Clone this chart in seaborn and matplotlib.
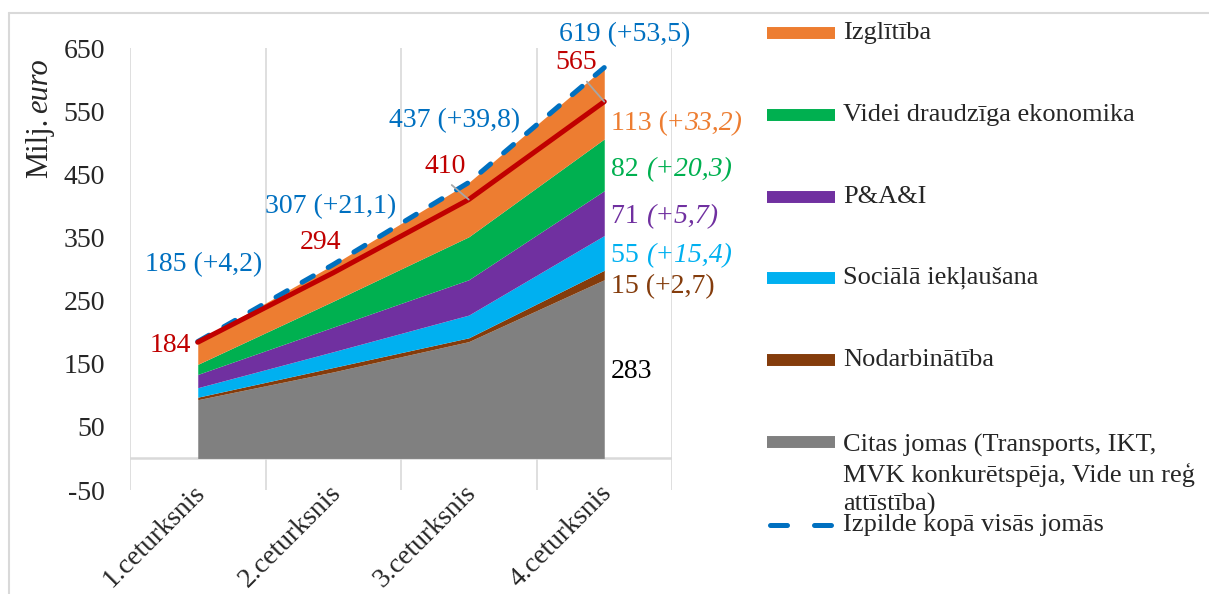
import numpy as np
import pandas as pd
import matplotlib
matplotlib.use("Agg")
import matplotlib.pyplot as plt
from matplotlib.lines import Line2D
from matplotlib.transforms import ScaledTranslation
import seaborn as sns

# ---------------- data ----------------
categories = ["1.ceturksnis", "2.ceturksnis", "3.ceturksnis", "4.ceturksnis"]
citas = [93, 137, 185, 283]
nodarbinatiba = [4, 7, 6, 15]
socialā = [15, 25, 36, 55]
pai = [21, 39, 56, 71]
videi = [16, 41, 68, 82]
izglitiba = [36, 58, 86, 113]
total = [185, 307, 437, 619]
total_labels = ["185 (+4,2)", "307 (+21,1)", "437 (+39,8)", "619 (+53,5)"]
plan = [184, 294, 410, 565]
plan_labels = ["184", "294", "410", "565"]
yticks = [-50, 50, 150, 250, 350, 450, 550, 650]

series_names = ["Citas jomas (Transports, IKT,\nMVK konkurētspēja, Vide un reģ\nattīstība)",
                "Nodarbinātība", "Sociālā iekļaušana", "P&A&I",
                "Videi draudzīga ekonomika", "Izglītība"]
series_vals = [citas, nodarbinatiba, socialā, pai, videi, izglitiba]
colors = ["#808080", "#843C0C", "#00B0F0", "#7030A0", "#00B050", "#ED7D31"]
total_name = "Izpilde kopā visās jomās"

# right-hand labels at the last quarter: (upright part, italic part)
right_labels = [("113 (+", "33,2)"), ("82 ", "(+20,3)"), ("71 ", "(+5,7)"),
                ("55 ", "(+15,4)"), ("15 (+2,7)", ""), ("283", "")]
right_colors = ["#ED7D31", "#00B050", "#7030A0", "#00B0F0", "#843C0C", "black"]
right_y = [531, 457, 383, 321, 272, 137]

BLUE = "#0070C0"
RED = "#C00000"
GRID = "#D9D9D9"

# ---------------- style ----------------
sns.set_theme(style="white")
plt.rcParams["font.family"] = ["Liberation Serif", "DejaVu Serif"]
plt.rcParams["font.size"] = 20

W, H = 1209, 594
fig = plt.figure(figsize=(W / 100, H / 100), dpi=100)
ax = fig.add_axes([130 / W, 1 - 490 / H, (672 - 130) / W, (490 - 48) / H])

x = np.arange(len(categories))
df = pd.DataFrame({"x": x, "total": total, "plan": plan})

ax.stackplot(x, *series_vals, colors=colors, zorder=2, linewidth=0)

sns.lineplot(data=df, x="x", y="total", ax=ax, color=BLUE, lw=3.6,
             linestyle=(0, (2.6, 3.4)), dash_capstyle="round", zorder=4)
sns.lineplot(data=df, x="x", y="plan", ax=ax, color=RED, lw=3.6,
             solid_capstyle="round", zorder=5)

ax.set_xlim(-0.5, 3.5)
ax.set_ylim(-50, 650)
ax.set_yticks(yticks)
ax.set_yticklabels([str(v) for v in yticks])
ax.set_xticks(x)
ax.set_xticklabels(categories, rotation=45, ha="right", va="top",
                   rotation_mode="anchor")
ax.set_xticks(np.arange(-0.5, len(categories)), minor=True)
ax.grid(False)
ax.grid(which="minor", axis="x", color=GRID, lw=1.2, zorder=0)
ax.axhline(0, color=GRID, lw=1.8, zorder=1)
ax.tick_params(axis="y", length=0, pad=18, labelsize=20)
ax.tick_params(axis="x", which="both", length=0, pad=1, labelsize=20)
for lab in ax.get_xticklabels():
    lab.set_transform(lab.get_transform() + ScaledTranslation(-0.05, 0.11, fig.dpi_scale_trans))
for s in ax.spines.values():
    s.set_visible(False)
ax.set_xlabel("")
ax.set_ylabel("")

# ---------------- data labels ----------------
total_off = [(6, 77), (-3, 58), (-14, 62), (20, 33)]
for i, (lab, off) in enumerate(zip(total_labels, total_off)):
    ax.annotate(lab, xy=(x[i], total[i]), xytext=off, textcoords="offset pixels",
                ha="center", va="center", color=BLUE, fontsize=20, zorder=6)

plan_off = [(-27, -3), (-13, 30), (-24, 33), (-28, 39)]
for i, (lab, off) in enumerate(zip(plan_labels, plan_off)):
    kw = {}
    if i >= 2:
        kw = dict(arrowprops=dict(arrowstyle="-", color="#A6A6A6", lw=1.3,
                                  relpos=(0.5 if i == 2 else 0.62, 0.0),
                                  shrinkA=3, shrinkB=0))
    ax.annotate(lab, xy=(x[i], plan[i]), xytext=off, textcoords="offset pixels",
                ha="center", va="center", color=RED, fontsize=20, zorder=6, **kw)

for (p1, p2), c, yv in zip(right_labels, right_colors, right_y):
    t1 = ax.annotate(p1, xy=(x[-1], yv), xytext=(7, 0), textcoords="offset pixels",
                     ha="left", va="center", color=c, fontsize=20, zorder=6)
    if p2:
        ax.annotate(p2, xy=(1, 0), xycoords=t1, ha="left", va="bottom",
                    color=c, fontsize=20, style="italic", zorder=6)

# ---------------- axis title ----------------
ty = fig.text(40 / W, 1 - 178 / H, "Milj.", rotation=90, ha="center", va="bottom",
              fontsize=22)
ax.annotate("euro", xy=(0.5, 1), xycoords=ty, xytext=(0, 5), textcoords="offset pixels",
            rotation=90, ha="center", va="bottom", fontsize=22, style="italic",
            annotation_clip=False)

# ---------------- legend (manual, Excel-like) ----------------
leg_order = [5, 4, 3, 2, 1, 0]
leg_y = [33, 115, 197, 278, 360]
for k, idx in enumerate(leg_order):
    yc = 442 if idx == 0 else leg_y[k]
    fig.add_artist(Line2D([767 / W, 835 / W], [1 - yc / H, 1 - yc / H],
                          transform=fig.transFigure, color=colors[idx], lw=8.6,
                          solid_capstyle="butt"))
    if idx == 0:
        fig.text(843 / W, 1 - 434 / H, series_names[idx], ha="left", va="top",
                 fontsize=19, linespacing=1.32)
    else:
        fig.text(843 / W, 1 - yc / H, series_names[idx], ha="left", va="center",
                 fontsize=19)
yc = 525
fig.add_artist(Line2D([770 / W, 831 / W], [1 - yc / H, 1 - yc / H],
                      transform=fig.transFigure, color=BLUE, lw=3.6,
                      linestyle=(0, (3.4, 5.4)), dash_capstyle="round"))
fig.text(843 / W, 1 - yc / H, total_name, ha="left", va="center", fontsize=19)

# ---------------- outer border ----------------
fig.add_artist(Line2D([9 / W, 1.0], [1 - 13 / H, 1 - 13 / H], transform=fig.transFigure,
                      color=GRID, lw=1.5))
fig.add_artist(Line2D([9 / W, 9 / W], [0, 1 - 13 / H], transform=fig.transFigure,
                      color=GRID, lw=1.5))

fig.savefig("out.png", dpi=100, facecolor="white")
